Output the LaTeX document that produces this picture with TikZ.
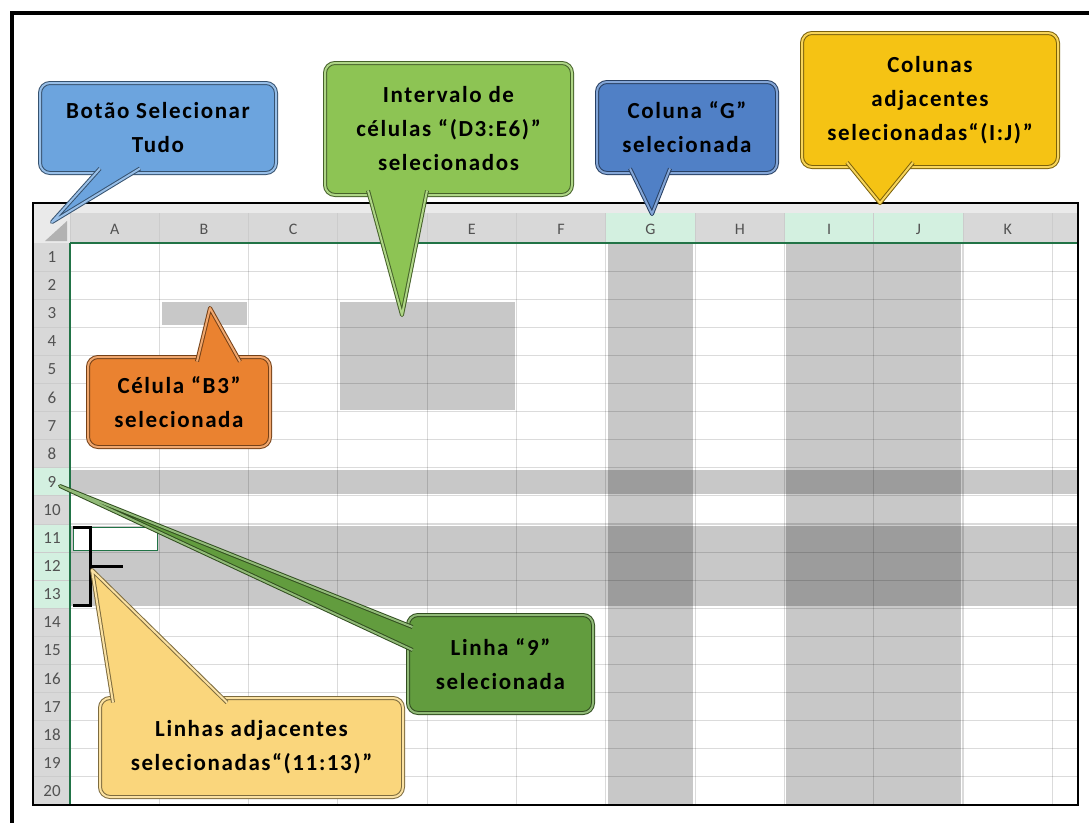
\documentclass[tikz,border=0pt]{standalone}
\usepackage{fontspec}
\setmainfont{Carlito}
\newfontfamily\callfont{Carlito}[LetterSpace=7]
\usepackage{tikz}
\usetikzlibrary{calc}
\definecolor{xlgreen}{RGB}{33,115,70}
\definecolor{hdrgrey}{RGB}{216,216,216}
\definecolor{hdrlight}{RGB}{234,234,234}
\definecolor{hdrgreen}{RGB}{211,240,224}
\definecolor{selgrey}{RGB}{200,200,200}
\definecolor{seldark}{RGB}{156,156,156}
\definecolor{bluelt}{RGB}{108,164,222}
\definecolor{bluedk}{RGB}{80,128,198}
\definecolor{greenlt}{RGB}{141,196,84}
\definecolor{greendk}{RGB}{98,156,62}
\definecolor{goldcol}{RGB}{245,195,20}
\definecolor{orangecol}{RGB}{234,130,48}
\definecolor{sandcol}{RGB}{250,214,124}

\begin{document}
\begin{tikzpicture}[
  x=1pt, y=-1pt,
  hdr/.style={font=\fontsize{16}{16}\selectfont, text=black!68, inner sep=0pt},
  gridline/.style={black, opacity=.14, line width=1.1pt},
  hdrsep/.style={black!20, line width=1pt},
  bubble/.style={draw=#1!50!black, double=#1!70!white, double distance=2pt,
                 line width=1pt, fill=#1, rounded corners=10pt, align=center,
                 inner sep=2pt,
                 font=\callfont\bfseries\fontsize{23}{34}\selectfont},
  tail/.style={draw=#1!50!black, double=#1!70!white, double distance=2pt,
               line width=1pt, fill=#1, line join=round},
  brace/.style={line width=3pt, black}
]
  \useasboundingbox (0,0) rectangle (1089,822);
  \fill[white] (0,0) rectangle (1089,822);
  \draw[line width=4pt] (12,13) rectangle (1120,860);

  % sheet headers
  \fill[hdrlight] (33,203) rectangle (1078,243);
  \fill[hdrgrey] (33,243) rectangle (70,805);
  \fill[black!30] (45,241) -- (67,241) -- (67,221) -- cycle;
  \foreach \c/\hc [count=\i from 0] in {A/hdrgrey,B/hdrgrey,C/hdrgrey,D/hdrgrey,
      E/hdrgrey,F/hdrgrey,G/hdrgreen,H/hdrgrey,I/hdrgreen,J/hdrgreen,K/hdrgrey} {
    \fill[\hc] ({70+89.3*\i},213) rectangle ({70+89.3*(\i+1)},243);
    \draw[hdrsep] ({70+89.3*\i},213) -- ({70+89.3*\i},243);
    \node[hdr] (cl\c) at ({70+89.3*(\i+0.5)},229) {\c};
  }
  \fill[hdrgrey] (1052.3,213) rectangle (1078,243);
  \draw[hdrsep] (1052.3,213) -- (1052.3,243);
  \fill[hdrgreen] (33,467.8) rectangle (70,495.9);
  \fill[hdrgreen] (33,524) rectangle (70,608.3);
  \foreach \r in {1,...,20} {
    \draw[hdrsep] (33,{243+28.1*\r}) -- (70,{243+28.1*\r});
    \node[hdr, font=\fontsize{17}{17}\selectfont] (rn\r) at (52,{243+28.1*(\r-0.5)}) {\r};
  }

  % selected cells
  \fill[selgrey] (161.5,301.5) rectangle (246.5,325);
  \fill[selgrey] (340,301.5) rectangle (514.5,409.5);
  \fill[selgrey] (607.8,243) rectangle (693.1,805);
  \fill[selgrey] (786.4,243) rectangle (961,805);
  \fill[selgrey] (70,469.8) rectangle (1078,494);
  \fill[selgrey] (70,526) rectangle (1078,606.3);
  \fill[seldark] (607.8,469.8) rectangle (693.1,494);
  \fill[seldark] (786.4,469.8) rectangle (961,494);
  \fill[seldark] (607.8,526) rectangle (693.1,606.3);
  \fill[seldark] (786.4,526) rectangle (961,606.3);

  \foreach \i in {1,...,11}
    \draw[gridline] ({70+89.3*\i},243) -- ({70+89.3*\i},805);
  \foreach \r in {1,...,19}
    \draw[gridline] (70,{243+28.1*\r}) -- (1078,{243+28.1*\r});

  \draw[xlgreen, fill=white, line width=1pt] (73,527) rectangle (157,550);
  \draw[xlgreen, line width=2pt] (70,243) -- (1078,243);
  \draw[xlgreen, line width=2pt] (70,243) -- (70,805);
  \draw[line width=2pt] (33,203) rectangle (1078,805);

  % bracket for rows 11:13
  \draw[brace] (73,527) -- (90,527) -- (90,605) -- (73,605);
  \draw[brace] (90,566) -- (123,566);

  % targets
  \coordinate (tgtall) at (52,222);
  \coordinate (tgtrange) at (402,315);
  \coordinate (tgtg) at (652,214);
  \coordinate (tgtij) at (880,203);
  \coordinate (tgtb3) at (210,308);
  \coordinate (tgtr9) at (60,486);
  \coordinate (tgtbrk) at (92,570);

  % callouts
  \node[bubble=bluelt, minimum width=236pt, minimum height=90pt] (allbtn)
    at (158,128) {Botão Selecionar\\Tudo};
  \filldraw[tail=bluelt] ($(allbtn.south)+(-58,-5)$) -- (tgtall)
    -- ($(allbtn.south)+(-18,-5)$);

  \node[bubble=greenlt, minimum width=247pt, minimum height=132pt] (rangebox)
    at (448.5,129) {Intervalo de\\células “(D3:E6)”\\selecionados};
  \filldraw[tail=greenlt] ($(rangebox.south)+(-80.5,-5)$) -- (tgtrange)
    -- ($(rangebox.south)+(-21.5,-5)$);

  \node[bubble=bluedk, minimum width=180pt, minimum height=91pt] (colg)
    at (687,127.5) {Coluna “G”\\selecionada};
  \filldraw[tail=bluedk] ($(colg.south)+(-57,-5)$) -- (tgtg)
    -- ($(colg.south)+(-17,-5)$);

  \node[bubble=goldcol, minimum width=256pt, minimum height=134pt] (colij)
    at (930,100) {Colunas\\adjacentes\\selecionadas“(I:J)”};
  \filldraw[tail=goldcol] ($(colij.south)+(-83,-5)$) -- (tgtij)
    -- ($(colij.south)+(-17,-5)$);

  \node[bubble=orangecol, minimum width=182pt, minimum height=90pt] (cellb)
    at (179,402) {Célula “B3”\\selecionada};
  \filldraw[tail=orangecol] ($(cellb.north)+(18,5)$) -- (tgtb3)
    -- ($(cellb.north)+(61,5)$);

  \node[bubble=greendk, minimum width=185pt, minimum height=98pt] (lin9)
    at (500.5,664) {Linha “9”\\selecionada};
  \filldraw[tail=greendk] ($(lin9.west)+(5,-37)$) -- (tgtr9)
    -- ($(lin9.west)+(5,-14)$);

  \node[bubble=sandcol, minimum width=303pt, minimum height=99pt] (lin1113)
    at (251.5,747.5) {Linhas adjacentes\\selecionadas“(11:13)”};
  \filldraw[tail=sandcol] ($(lin1113.north)+(-138.5,5)$) -- (tgtbrk)
    -- ($(lin1113.north)+(-24.5,5)$);
\end{tikzpicture}
\end{document}
